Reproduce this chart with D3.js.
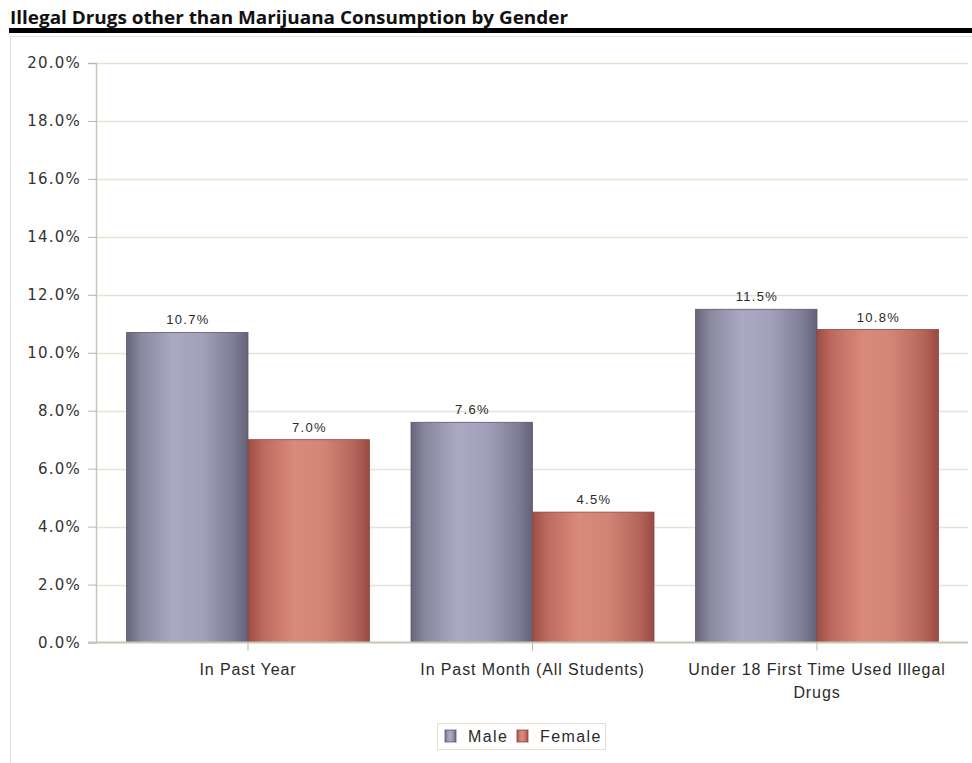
<!DOCTYPE html>
<html>
<head>
<meta charset="utf-8">
<script src="https://cdn.jsdelivr.net/npm/d3@7"></script>
<style>
  html, body { margin: 0; padding: 0; background: #fff; }
  svg { display: block; }
</style>
</head>
<body>
<svg id="chart" width="972" height="763"></svg>
<script>
// Survey results: share of students using illegal drugs other than marijuana
const categories = ["In Past Year", "In Past Month (All Students)", "Under 18 First Time Used Illegal Drugs"];
const seriesNames = ["Male", "Female"];
const maleValues = [10.7, 7.6, 11.5];
const femaleValues = [7.0, 4.5, 10.8];
const yTicks = [0, 2, 4, 6, 8, 10, 12, 14, 16, 18, 20];
const categoryLines = [["In Past Year"], ["In Past Month (All Students)"], ["Under 18 First Time Used Illegal", "Drugs"]];

const seriesValues = { Male: maleValues, Female: femaleValues };
const rows = categories.map((c, i) => ({
  category: c,
  values: seriesNames.map(s => ({ series: s, value: seriesValues[s][i] }))
}));

const svg = d3.select("#chart");
const font = "'Liberation Sans', Arial, sans-serif";

// Title and heavy rule
svg.append("text")
  .attr("x", 10).attr("y", 24)
  .attr("font-family", "'Open Sans', 'Noto Sans', sans-serif")
  .attr("font-weight", 700)
  .attr("font-size", 17)
  .attr("textLength", 558)
  .attr("lengthAdjust", "spacingAndGlyphs")
  .attr("fill", "#111")
  .text("Illegal Drugs other than Marijuana Consumption by Gender");
svg.append("rect").attr("x", 9).attr("y", 28).attr("width", 963).attr("height", 5).attr("fill", "#000");

// Chart frame
svg.append("rect")
  .attr("x", 10.5).attr("y", 36.5).attr("width", 975).attr("height", 740)
  .attr("fill", "none").attr("stroke", "#e6e3d6").attr("stroke-width", 1);

// Plot extents
const plotLeft = 96, plotRight = 968, plotTop = 63, plotBottom = 642.5;

const y = d3.scaleLinear().domain([0, 20]).range([plotBottom, plotTop]);
const x0 = d3.scaleBand().domain(categories).range([105.75, 959.25]).padding(0);
const x1 = d3.scaleBand().domain(seriesNames).range([0, x0.bandwidth()]).paddingInner(0).paddingOuter(0.1708);

// Gradients for the shaded bars
const defs = svg.append("defs");
const grads = {
  Male: [["0%", "#66657c"], ["12%", "#8a889f"], ["38%", "#aba8c3"], ["62%", "#a3a0bb"], ["88%", "#7f7d95"], ["100%", "#636279"]],
  Female: [["0%", "#9c4d44"], ["12%", "#bd6a5e"], ["38%", "#d98a7b"], ["62%", "#d48475"], ["88%", "#b5645a"], ["100%", "#984a42"]]
};
Object.entries(grads).forEach(([name, stops]) => {
  const g = defs.append("linearGradient").attr("id", "grad-" + name)
    .attr("x1", "0%").attr("x2", "100%").attr("y1", "0%").attr("y2", "0%");
  stops.forEach(([o, c]) => g.append("stop").attr("offset", o).attr("stop-color", c));
});
const strokeColor = { Male: "#5a596c", Female: "#8e4640" };

// Gridlines
svg.append("g").selectAll("line").data(yTicks.filter(t => t > 0)).join("line")
  .attr("x1", plotLeft).attr("x2", plotRight)
  .attr("y1", d => Math.round(y(d)) + 0.5).attr("y2", d => Math.round(y(d)) + 0.5)
  .attr("stroke", "#e8e3d2").attr("stroke-width", 1.5);

// Y axis
const yAxis = svg.append("g").attr("transform", `translate(${plotLeft},0)`)
  .call(d3.axisLeft(y).tickValues(yTicks).tickSize(8).tickPadding(7).tickFormat(d => d3.format(".1f")(d) + "%"));
yAxis.select(".domain").attr("stroke", "#c8c5b6").attr("stroke-width", 1.5);
yAxis.selectAll(".tick line").attr("stroke", "#b9b6a6");
yAxis.selectAll(".tick text")
  .attr("font-family", "'DejaVu Sans', sans-serif").attr("font-size", 15).attr("fill", "#333")
  .attr("letter-spacing", 1.2);

// Bars
const groups = svg.append("g").selectAll("g").data(rows).join("g")
  .attr("transform", d => `translate(${x0(d.category)},0)`);
groups.selectAll("rect").data(d => d.values).join("rect")
  .attr("x", d => x1(d.series))
  .attr("y", d => y(d.value))
  .attr("width", x1.bandwidth())
  .attr("height", d => y(0) - y(d.value))
  .attr("fill", d => `url(#grad-${d.series})`)
  .attr("stroke", d => strokeColor[d.series]).attr("stroke-width", 0.8);

// Value labels
groups.selectAll("text").data(d => d.values).join("text")
  .attr("x", d => x1(d.series) + x1.bandwidth() / 2 + 0.7)
  .attr("y", d => y(d.value) - 8)
  .attr("text-anchor", "middle")
  .attr("font-family", font).attr("font-size", 13).attr("fill", "#2a2a2a")
  .attr("letter-spacing", 1.3)
  .text(d => d3.format(".1f")(d.value) + "%");

// X axis
const xAxis = svg.append("g");
xAxis.append("line").attr("x1", plotLeft - 8).attr("x2", plotRight)
  .attr("y1", plotBottom).attr("y2", plotBottom)
  .attr("stroke", "#c8c5b6").attr("stroke-width", 2);
xAxis.selectAll(".xtick").data(categories).join("line").attr("class", "xtick")
  .attr("x1", d => x0(d) + x0.bandwidth() / 2).attr("x2", d => x0(d) + x0.bandwidth() / 2)
  .attr("y1", plotBottom).attr("y2", plotBottom + 8)
  .attr("stroke", "#b9b6a6");
xAxis.selectAll(".xlabel").data(categories).join("text").attr("class", "xlabel")
  .attr("x", d => x0(d) + x0.bandwidth() / 2)
  .attr("y", 675)
  .attr("text-anchor", "middle")
  .attr("font-family", font).attr("font-size", 16).attr("fill", "#2a2a2a")
  .attr("letter-spacing", 0.9)
  .each(function(d, i) {
    const t = d3.select(this);
    categoryLines[i].forEach((line, j) => {
      t.append("tspan").attr("x", x0(d) + x0.bandwidth() / 2).attr("dy", j === 0 ? 0 : 23).text(line);
    });
  });

// Legend
const legend = svg.append("g").attr("transform", "translate(437,723)");
legend.append("rect").attr("x", 0.5).attr("y", 0.5).attr("width", 168).attr("height", 26)
  .attr("fill", "#fff").attr("stroke", "#e3e0d2");
const legendX = { Male: 8, Female: 80 };
const li = legend.selectAll(".item").data(seriesNames).join("g").attr("class", "item")
  .attr("transform", d => `translate(${legendX[d]},7)`);
li.append("rect").attr("width", 11).attr("height", 12)
  .attr("fill", d => `url(#grad-${d})`).attr("stroke", d => strokeColor[d]).attr("stroke-width", 0.8);
li.append("text").attr("x", 23).attr("y", 12)
  .attr("font-family", font).attr("font-size", 16).attr("fill", "#2a2a2a")
  .attr("letter-spacing", 1.4)
  .text(d => d);
</script>
</body>
</html>
